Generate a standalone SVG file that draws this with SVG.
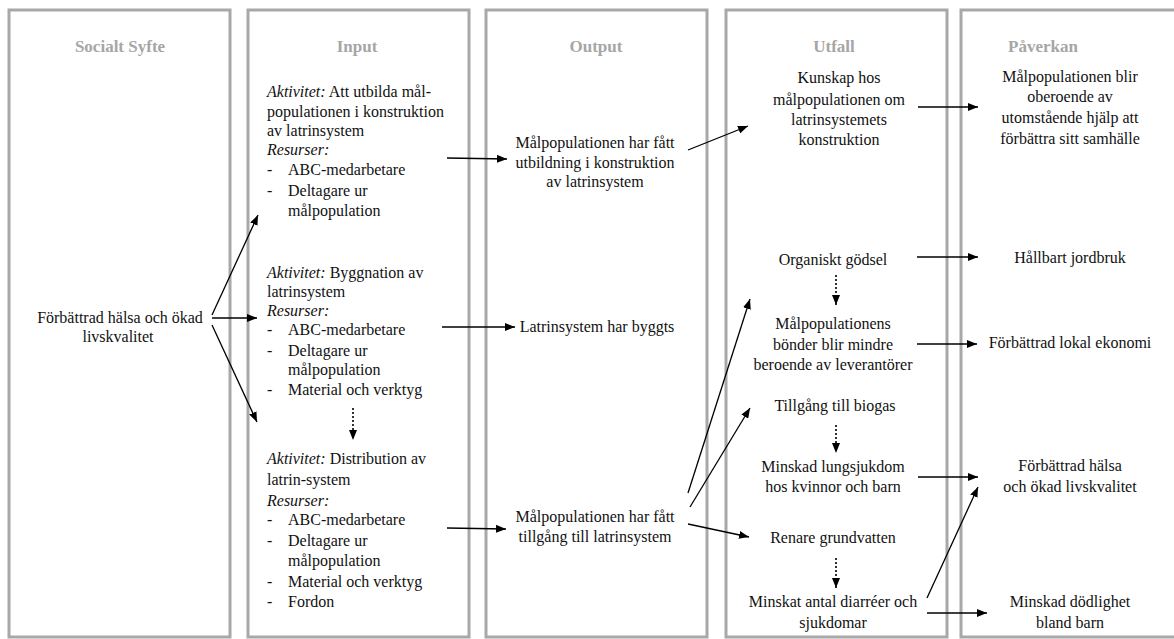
<svg xmlns="http://www.w3.org/2000/svg" width="1174" height="639" viewBox="0 0 1174 639">
<defs>
<marker id="ah" markerUnits="userSpaceOnUse" markerWidth="10" markerHeight="8" viewBox="0 0 10 8" refX="10" refY="4" orient="auto"><path d="M0,0 L10,4 L0,8 z" fill="#000"/></marker>
<style>
.col{fill:#fff;stroke:#a8a8a8;stroke-width:3}
.hd{font-family:"Liberation Serif","Times New Roman",serif;font-size:17px;font-weight:bold;fill:#a6a6a6;text-anchor:middle}
.t{font-family:"Liberation Serif","Times New Roman",serif;font-size:16px;fill:#111}
.c{text-anchor:middle}
.i{font-style:italic}
.ln{stroke:#000;stroke-width:1.3;fill:none;marker-end:url(#ah)}
.dt{stroke:#000;stroke-width:1.6;fill:none;stroke-dasharray:2,2;marker-end:url(#ah)}
</style>
</defs>
<rect width="1174" height="639" fill="#fff"/>
<g id="columns">
<rect class="col" x="9" y="10" width="221" height="627"/>
<rect class="col" x="248" y="10" width="221" height="627"/>
<rect class="col" x="486" y="10" width="221" height="627"/>
<rect class="col" x="726" y="10" width="221" height="627"/>
<rect class="col" x="961" y="10" width="221" height="627"/>
<text class="hd" x="120" y="52">Socialt Syfte</text>
<text class="hd" x="357" y="52">Input</text>
<text class="hd" x="596" y="52">Output</text>
<text class="hd" x="834" y="52">Utfall</text>
<text class="hd" x="1043" y="52">Påverkan</text>
</g>
<g id="socialt">
<text class="t c" x="120" y="323">Förbättrad hälsa och ökad</text>
<text class="t c" x="118" y="342">livskvalitet</text>
</g>
<g id="input1">
<text class="t" x="267" y="97"><tspan class="i">Aktivitet:</tspan> Att utbilda mål-</text>
<text class="t" x="267" y="117">populationen i konstruktion</text>
<text class="t" x="267" y="136">av latrinsystem</text>
<text class="t i" x="267" y="155">Resurser:</text>
<text class="t" x="267" y="175">-</text><text class="t" x="288" y="175">ABC-medarbetare</text>
<text class="t" x="267" y="196">-</text><text class="t" x="288" y="196">Deltagare ur</text>
<text class="t" x="288" y="216">målpopulation</text>
</g>
<g id="input2">
<text class="t" x="267" y="278"><tspan class="i">Aktivitet:</tspan> Byggnation av</text>
<text class="t" x="267" y="297">latrinsystem</text>
<text class="t i" x="267" y="316">Resurser:</text>
<text class="t" x="267" y="335">-</text><text class="t" x="288" y="335">ABC-medarbetare</text>
<text class="t" x="267" y="356">-</text><text class="t" x="288" y="356">Deltagare ur</text>
<text class="t" x="288" y="375">målpopulation</text>
<text class="t" x="267" y="395">-</text><text class="t" x="288" y="395">Material och verktyg</text>
</g>
<g id="input3">
<text class="t" x="267" y="464"><tspan class="i">Aktivitet:</tspan> Distribution av</text>
<text class="t" x="267" y="485">latrin-system</text>
<text class="t i" x="267" y="506">Resurser:</text>
<text class="t" x="267" y="525">-</text><text class="t" x="288" y="525">ABC-medarbetare</text>
<text class="t" x="267" y="546">-</text><text class="t" x="288" y="546">Deltagare ur</text>
<text class="t" x="288" y="566">målpopulation</text>
<text class="t" x="267" y="587">-</text><text class="t" x="288" y="587">Material och verktyg</text>
<text class="t" x="267" y="607">-</text><text class="t" x="288" y="607">Fordon</text>
</g>
<g id="output1">
<text class="t c" x="595" y="148">Målpopulationen har fått</text>
<text class="t c" x="595" y="168">utbildning i konstruktion</text>
<text class="t c" x="595" y="187">av latrinsystem</text>
</g>
<g id="output2">
<text class="t c" x="597" y="332">Latrinsystem har byggts</text>
</g>
<g id="output3">
<text class="t c" x="595" y="522">Målpopulationen har fått</text>
<text class="t c" x="595" y="542">tillgång till latrinsystem</text>
</g>
<g id="utfall1">
<text class="t c" x="839" y="83">Kunskap hos</text>
<text class="t c" x="839" y="105">målpopulationen om</text>
<text class="t c" x="839" y="125">latrinsystemets</text>
<text class="t c" x="839" y="145">konstruktion</text>
</g>
<g id="utfall2"><text class="t c" x="833" y="265">Organiskt gödsel</text></g>
<g id="utfall3">
<text class="t c" x="833" y="329">Målpopulationens</text>
<text class="t c" x="833" y="350">bönder blir mindre</text>
<text class="t c" x="833" y="370">beroende av leverantörer</text>
</g>
<g id="utfall4"><text class="t c" x="835" y="411">Tillgång till biogas</text></g>
<g id="utfall5">
<text class="t c" x="833" y="472">Minskad lungsjukdom</text>
<text class="t c" x="833" y="492">hos kvinnor och barn</text>
</g>
<g id="utfall6"><text class="t c" x="833" y="543">Renare grundvatten</text></g>
<g id="utfall7">
<text class="t c" x="833" y="607">Minskat antal diarréer och</text>
<text class="t c" x="833" y="628">sjukdomar</text>
</g>
<g id="paverkan1">
<text class="t c" x="1070" y="82">Målpopulationen blir</text>
<text class="t c" x="1070" y="102">oberoende av</text>
<text class="t c" x="1070" y="123">utomstående hjälp att</text>
<text class="t c" x="1070" y="144">förbättra sitt samhälle</text>
</g>
<g id="paverkan2"><text class="t c" x="1070" y="263">Hållbart jordbruk</text></g>
<g id="paverkan3"><text class="t c" x="1070" y="348">Förbättrad lokal ekonomi</text></g>
<g id="paverkan4">
<text class="t c" x="1070" y="471">Förbättrad hälsa</text>
<text class="t c" x="1070" y="492">och ökad livskvalitet</text>
</g>
<g id="paverkan5">
<text class="t c" x="1070" y="607">Minskad dödlighet</text>
<text class="t c" x="1070" y="628">bland barn</text>
</g>
<g id="connectors">
<line class="ln" x1="212" y1="315" x2="258" y2="215"/>
<line class="ln" x1="212" y1="318" x2="257" y2="318"/>
<line class="ln" x1="212" y1="325" x2="257" y2="422"/>
<line class="ln" x1="447" y1="158" x2="507" y2="159"/>
<line class="ln" x1="442" y1="327" x2="515" y2="327"/>
<line class="ln" x1="447" y1="528" x2="506" y2="529"/>
<line class="ln" x1="688" y1="150" x2="748" y2="126"/>
<line class="ln" x1="688" y1="493" x2="750" y2="299"/>
<line class="ln" x1="690" y1="507" x2="750" y2="408"/>
<line class="ln" x1="688" y1="524" x2="749" y2="537"/>
<line class="ln" x1="918" y1="107" x2="978" y2="107"/>
<line class="ln" x1="917" y1="257" x2="978" y2="257"/>
<line class="ln" x1="917" y1="344" x2="977" y2="344"/>
<line class="ln" x1="918" y1="477" x2="978" y2="477"/>
<line class="ln" x1="927" y1="598" x2="978" y2="487"/>
<line class="ln" x1="927" y1="613" x2="987" y2="613"/>
<line class="dt" x1="353" y1="408" x2="353" y2="440"/>
<line class="dt" x1="836" y1="275" x2="836" y2="305"/>
<line class="dt" x1="836" y1="425" x2="836" y2="453"/>
<line class="dt" x1="836" y1="558" x2="836" y2="588"/>
</g>
</svg>
